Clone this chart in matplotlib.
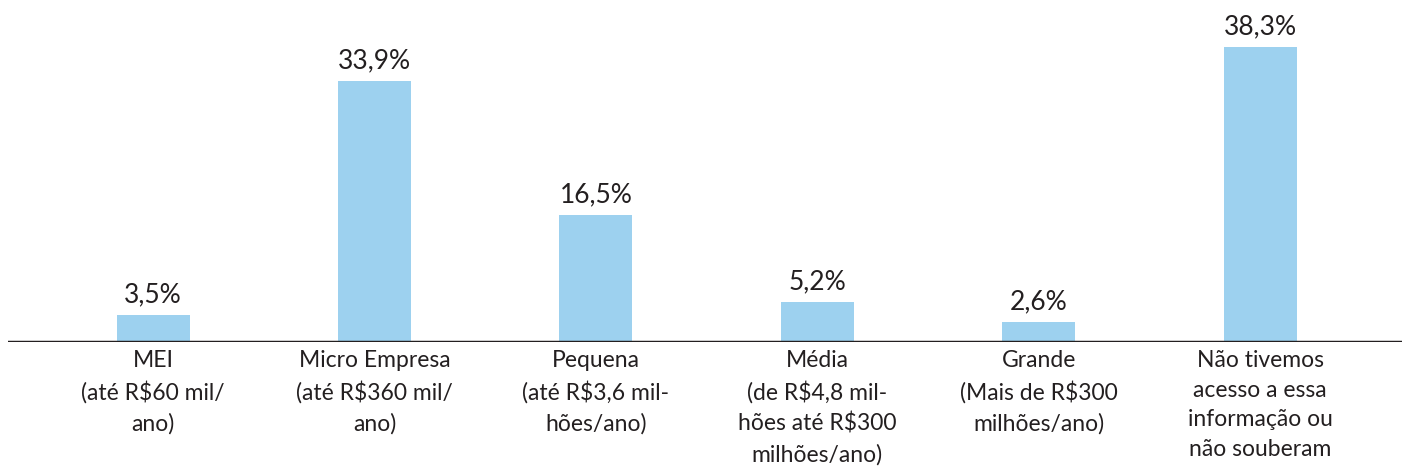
import matplotlib.pyplot as plt

categorias = [
    "MEI\n(até R$60 mil/\nano)",
    "Micro Empresa\n(até R$360 mil/\nano)",
    "Pequena\n(até R$3,6 mil-\nhões/ano)",
    "Média\n(de R$4,8 mil-\nhões até R$300\nmilhões/ano)",
    "Grande\n(Mais de R$300\nmilhões/ano)",
    "Não tivemos\nacesso a essa\ninformação ou\nnão souberam",
]
valores = [3.5, 33.9, 16.5, 5.2, 2.6, 38.3]
rotulos = ["3,5%", "33,9%", "16,5%", "5,2%", "2,6%", "38,3%"]

plt.rcParams['font.family'] = ['Lato', 'DejaVu Sans']
cor_texto = "#231f20"

fig = plt.figure(figsize=(14.02, 4.73), dpi=100)
ax = fig.add_axes([8 / 1402, 131 / 473, 1 - 8 / 1402, 1 - 131 / 473])

x = list(range(len(valores)))
ax.bar(x, valores, width=0.33, color="#9dd1ef")

for i in x:
    ax.text(i, valores[i] + 1.0, rotulos[i], ha="center", va="bottom",
            fontsize=19, color=cor_texto)
    ax.text(i, -1.1, categorias[i], ha="center", va="top", fontsize=16.5,
            color=cor_texto, linespacing=1.5)

ax.axhline(0, color=cor_texto, linewidth=2.5)
ax.set_xlim(-0.655, 5.64)
ax.set_ylim(0, 44.4)
ax.axis("off")

plt.savefig("out.png", dpi=100)
